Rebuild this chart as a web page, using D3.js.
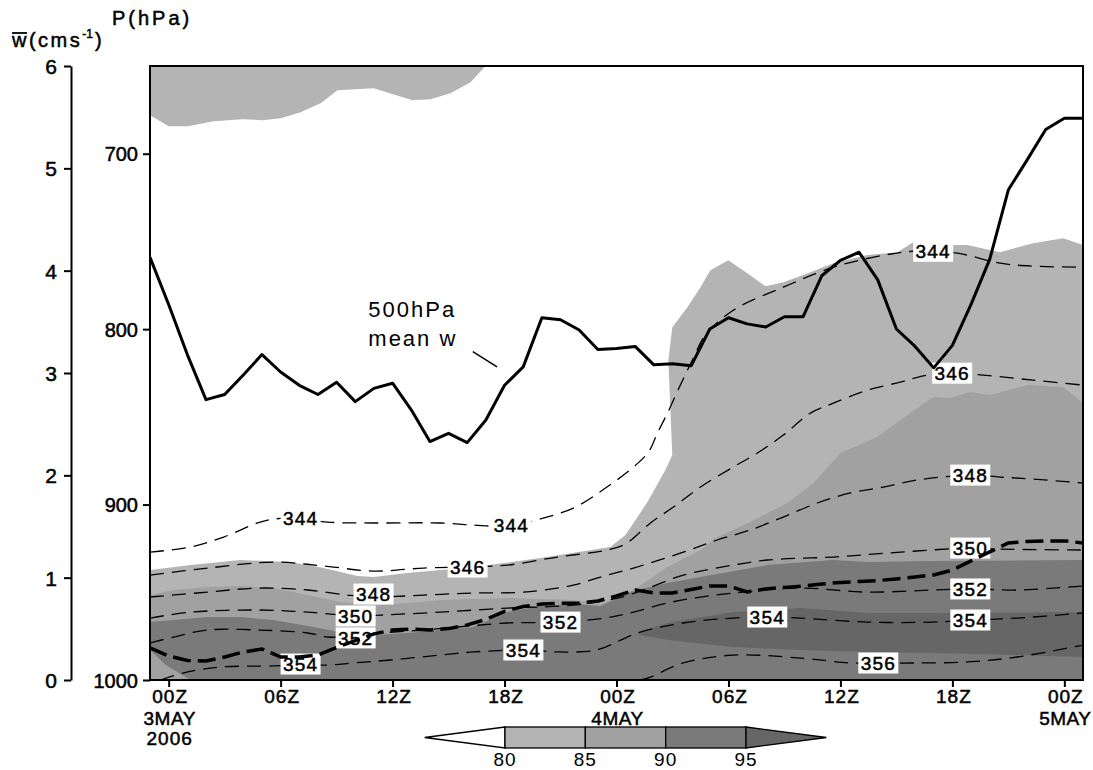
<!DOCTYPE html>
<html><head><meta charset="utf-8">
<script src="https://cdn.jsdelivr.net/npm/d3@7"></script>
<style>
body{margin:0;background:#fff}
svg text{font-family:"Liberation Sans",Arial,sans-serif;fill:#000}
</style>
</head><body>
<svg id="c" width="1093" height="770"></svg>
<script>
// ---------- DATA ----------
const hours = d3.range(-1, 50); // hourly from 23Z 2 May to 01Z 5 May (hours after 00Z 3 May)
const meanW500 = [4.13,3.67,3.18,2.74,2.79,2.98,3.18,3.01,2.88,2.79,2.91,2.72,2.85,2.90,2.64,2.33,2.41,2.32,2.54,2.88,3.06,3.54,3.52,3.42,3.23,3.24,3.26,3.08,3.09,3.07,3.43,3.54,3.48,3.45,3.55,3.55,3.95,4.10,4.18,3.91,3.43,3.26,3.05,3.27,3.67,4.11,4.79,5.08,5.38,5.49,5.49];
const thickDashP = [981.7,986.3,988.9,989.2,986.9,984.0,982.3,986.9,986.9,985.7,981.5,977.5,973.7,971.5,971.0,971.5,970.7,968.6,965.5,960.9,958.1,956.7,956.3,956.1,955.0,952.1,948.7,950.4,950.4,948.4,946.4,946.4,949.8,948.1,947.2,946.4,945.3,944.4,943.8,943.3,942.4,941.3,940.1,937.3,932.1,927.0,921.9,921.0,920.7,920.7,921.9];

// relative humidity shading boundaries [hour, hPa]
const rhLevels = [80, 85, 90, 95];
const rhColors = ["#b4b4b4", "#a1a1a1", "#7a7a7a", "#666666"];
const rh80TopBlob = [[-1,678.1],[0,684.3],[1.02,684.3],[2.41,681.5],[3.96,680.3],[5.03,680.9],[6.0,679.8],[7.07,676.4],[8.14,671.2],[9.05,663.8],[10.98,662.7],[13.07,669.5],[14.03,668.9],[15.1,665.5],[16.18,659.3],[16.98,650]];
const rh80Top = [[-1,937.3],[1.18,934.5],[3.86,931.6],[6.53,932.8],[8.3,936.2],[10.12,940.7],[10.98,941.3],[12.8,939.0],[16.34,935.6],[19.92,930.5],[23.67,924.2],[24.48,917.4],[25.66,898.6],[26.62,880.3],[26.99,871.8],[26.89,846.2],[26.78,817.7],[26.99,798.9],[27.8,787.5],[28.5,776.1],[29.03,766.4],[29.99,760.7],[31.01,768.1],[31.98,775.5],[32.94,773.2],[34.01,769.2],[35.62,762.4],[37.44,757.8],[39.05,756.1],[39.9,750.4],[40.97,752.1],[42.8,752.1],[44.56,756.1],[46.33,751.0],[47.94,748.2],[49,752.1]];
const rh85Top = [[-1,951.6],[0.27,948.7],[2.09,947.0],[3.86,946.4],[5.62,947.6],[7.45,951.6],[9.21,955.6],[10.98,957.3],[12.8,956.1],[14.57,954.4],[18.16,953.3],[21.69,954.4],[23.14,956.7],[24.91,948.7],[26.73,935.6],[28.5,925.9],[29.4,918.5],[31.17,910.0],[33.15,899.1],[34.55,887.8],[35.99,870.7],[37.97,861.5],[39.21,851.9],[40.97,838.7],[41.89,839.3],[42.96,835.9],[44.03,837.6],[46.01,831.9],[47.94,833.0],[49,842.2]];
const rh90Top = [[-1,967.0],[0.27,965.8],[2.09,964.1],[3.86,964.1],[5.62,965.8],[7.45,969.2],[9.21,972.6],[10.98,974.4],[12.8,973.2],[14.57,971.5],[16.34,969.8],[18.16,961.3],[19.92,957.8],[21.69,956.7],[23.14,957.8],[24.91,949.3],[26.73,944.7],[28.5,941.3],[32.08,934.5],[35.62,931.6],[37.44,932.8],[40.97,932.2],[49,931.6]];
const rh90LowerLeft = [[1.18,1000],[-0.16,991.5],[-1,982.9]];
const rh95Region = [[25.12,973.2],[26.73,967.5],[30.26,961.3],[33.85,959.0],[37.44,961.8],[40.97,961.8],[49,961.3],[49,986.9],[45.47,985.8],[40.97,984.6],[37.44,984.0],[33.85,982.9],[30.26,981.2],[26.73,977.2],[25.28,974.4]];

// equivalent potential temperature contours (K) [hour, hPa]
const thetaE344 = [[-1,927.1],[1.18,924.2],[2.95,918.5],[4.77,910.5],[5.62,908.3],[6.96,907.7],[8.52,910.0],[10.98,910.5],[14.57,910.5],[16.34,911.7],[17.94,912.3],[19.23,910.0],[21.69,902.0],[23.41,890.6],[24.91,878.6],[25.71,870.1],[26.19,859.3],[26.73,847.9],[27.42,831.9],[28.12,816.5],[28.76,803.4],[30.26,789.2],[32.94,776.1],[35.62,764.7],[38.3,757.9],[39.9,755.6],[42.26,756.7],[44.56,762.4],[46.33,764.1],[49,764.7]];
const thetaE346 = [[-1,940.2],[2.09,936.2],[5.62,932.8],[8.3,935.0],[10.98,937.9],[13.66,936.2],[16.02,935.6],[18.16,934.5],[20.84,929.9],[23.51,925.9],[24.48,922.5],[25.82,910.5],[27.05,901.4],[28.5,890.0],[30.26,878.6],[31.55,870.6],[32.94,860.4],[34.39,847.9],[35.62,842.2],[37.44,834.8],[39.21,830.2],[40.65,826.2],[41.99,825.1],[43.65,826.2],[46.33,829.1],[49,831.9]];
const thetaE348 = [[-1,952.7],[2.09,949.9],[4.77,947.6],[7.45,948.7],[9.59,951.6],[10.98,952.7],[13.66,951.6],[16.34,950.4],[19.01,949.9],[21.69,945.9],[23.14,941.3],[24.91,936.2],[27.58,927.1],[29.4,920.2],[31.17,914.5],[32.94,907.1],[34.76,899.1],[36.53,893.4],[38.3,890.0],[40.11,886.0],[43.06,883.2],[44.56,884.3],[46.33,885.5],[49,887.7]];
const thetaE350 = [[-1,964.7],[1.18,961.3],[4.77,960.1],[7.45,961.3],[10.02,963.5],[11.36,963.0],[14.57,961.3],[18.16,959.0],[21.69,957.3],[24.05,953.3],[25.44,948.7],[27.58,940.2],[30.26,934.5],[32.08,931.6],[35.62,929.9],[39.21,927.1],[42.96,924.8],[44.56,925.4],[49,925.9]];
const thetaE352 = [[-1,978.9],[0.27,975.5],[2.09,971.5],[4.77,971.5],[7.45,973.2],[8.52,975.5],[10.02,974.9],[11.36,973.2],[13.66,971.5],[15.48,969.8],[18.16,967.5],[21.0,967.0],[23.41,964.7],[24.91,961.3],[26.73,956.1],[28.5,952.7],[30.26,950.4],[33.85,947.6],[37.44,949.9],[40.97,948.7],[43.06,948.1],[45.47,948.7],[49,946.4]];
const thetaE354 = [[-0.43,1000],[1.02,995.4],[2.79,992.6],[5.62,992.0],[7.07,991.5],[8.52,991.5],[9.91,990.3],[11.89,988.6],[14.57,985.8],[16.34,984.0],[19.01,982.9],[20.84,984.0],[22.6,983.5],[23.41,981.2],[25.12,973.2],[27.58,967.5],[30.26,964.7],[32.08,964.1],[33.85,964.7],[37.44,967.0],[40.97,967.0],[43.06,965.8],[45.47,964.7],[49,961.8]];
const thetaE356 = [[25.28,1000],[25.82,998.3],[27.58,990.3],[30.26,985.8],[33.85,987.5],[36.53,990.3],[38.03,990.3],[40.11,990.3],[42.8,989.7],[45.47,986.9],[49,980.1]];
// contour labels: [text, hour, hPa]
const contourLabels = [["344",7.07,907.7],["344",18.37,911.7],["344",40.97,755.6],["346",16.02,935.6],["346",41.99,825.1],["348",10.98,951.0],["348",42.96,883.2],["350",10.02,963.5],["350",42.96,924.8],["352",10.02,976.0],["352",21.0,967.0],["352",42.96,948.1],["354",7.07,990.9],["354",19.01,982.9],["354",32.08,964.1],["354",42.96,965.8],["356",38.03,990.3]];

// axes
const timeTicks = [0, 6, 12, 18, 24, 30, 36, 42, 48];
const timeTickLabels = ["00Z","06Z","12Z","18Z","00Z","06Z","12Z","18Z","00Z"];
const dateLabels = [[0,"3MAY","2006"],[24,"4MAY",""],[48,"5MAY",""]];
const pTicks = [700, 800, 900, 1000];
const wTicks = [0, 1, 2, 3, 4, 5, 6];
const annotation = {lines:["500hPa","mean w"], text:[10.7, 3.55], from:[16.3, 3.21], to:[17.6, 3.06]};

// ---------- DRAW ----------
const svg = d3.select("#c");
const L = 150, R = 1083, T = 66, B = 680;
const x = d3.scaleLinear().domain([-1, 49]).range([L, R]);
const yP = d3.scaleLinear().domain([650, 1000]).range([T, B]);
const yW = d3.scaleLinear().domain([0, 6]).range([B, T]);
const FONT = "Liberation Sans, Arial, sans-serif";
const bolden = s => s.attr("stroke","#000").attr("stroke-width",0.5);

svg.append("defs").append("clipPath").attr("id","pc")
  .append("rect").attr("x",L).attr("y",T).attr("width",R-L).attr("height",B-T);
const g = svg.append("g").attr("clip-path","url(#pc)");
const pline = d3.line().x(d=>x(d[0])).y(d=>yP(d[1]));

// shading
const poly = (pts, col) => g.append("path").attr("d", pline(pts)+"Z").attr("fill", col).attr("stroke","none");
poly(rh80TopBlob.concat([[-1,650]]), rhColors[0]);
poly(rh80Top.concat([[49,1000],[-1,1000]]), rhColors[0]);
poly(rh85Top.concat([[49,1000],[-1,1000]]), rhColors[1]);
poly(rh90Top.concat([[49,1000]], rh90LowerLeft), rhColors[2]);
poly(rh95Region, rhColors[3]);

// contours
const smooth = d3.line().x(d=>x(d[0])).y(d=>yP(d[1])).curve(d3.curveCatmullRom.alpha(0.5));
[thetaE344, thetaE346, thetaE348, thetaE350, thetaE352, thetaE354, thetaE356].forEach(c => {
  g.append("path").attr("d", smooth(c)).attr("fill","none").attr("stroke","#000")
   .attr("stroke-width",1.3).attr("stroke-dasharray","14,8");
});
// contour labels
contourLabels.forEach(([t,h,p]) => {
  const cx = x(h), cy = yP(p);
  g.append("rect").attr("x",cx-20).attr("y",cy-10.5).attr("width",40).attr("height",21).attr("fill","#fff");
  bolden(g.append("text").attr("x",cx).attr("y",cy+7).attr("text-anchor","middle").attr("font-size",19)
    .attr("letter-spacing",1.2).text(t));
});

// thick dashed line
g.append("path").datum(thickDashP.map((p,i)=>[hours[i],p])).attr("d", pline)
  .attr("fill","none").attr("stroke","#000").attr("stroke-width",3.5).attr("stroke-dasharray","18,7");

// 500 hPa mean w
g.append("path").datum(meanW500.map((w,i)=>[hours[i],w]))
  .attr("d", d3.line().x(d=>x(d[0])).y(d=>yW(d[1])))
  .attr("fill","none").attr("stroke","#000").attr("stroke-width",3).attr("stroke-linejoin","round");

// annotation
annotation.lines.forEach((s,i)=>{
  svg.append("text").attr("x",x(annotation.text[0])).attr("y",yW(annotation.text[1])+i*29)
    .attr("font-size",22).attr("letter-spacing",2).text(s);
});
svg.append("line").attr("x1",x(annotation.from[0])).attr("y1",yW(annotation.from[1]))
  .attr("x2",x(annotation.to[0])).attr("y2",yW(annotation.to[1])).attr("stroke","#000").attr("stroke-width",1.5);

// frame
svg.append("rect").attr("x",L).attr("y",T).attr("width",R-L).attr("height",B-T)
  .attr("fill","none").attr("stroke","#000").attr("stroke-width",2);

// pressure axis
const pAx = svg.append("g").attr("transform",`translate(${L},0)`)
  .call(d3.axisLeft(yP).tickValues(pTicks).tickSize(7).tickPadding(5).tickFormat(d3.format("d")));
pAx.select(".domain").remove();
pAx.selectAll("line").attr("stroke-width",2);
bolden(pAx.selectAll("text").attr("font-size",20).attr("font-family",FONT).attr("dy","0.36em"));

// w axis
const wAx = svg.append("g").attr("transform","translate(71,0)")
  .call(d3.axisLeft(yW).tickValues(wTicks).tickSize(7).tickSizeOuter(0).tickPadding(7).tickFormat(d3.format("d")));
wAx.select(".domain").attr("stroke-width",2);
wAx.selectAll("line").attr("stroke-width",2);
bolden(wAx.selectAll("text").attr("font-size",21).attr("font-family",FONT).attr("dy","0.36em"));

// time axis
const tAx = svg.append("g").attr("transform",`translate(0,${B})`)
  .call(d3.axisBottom(x).tickValues(timeTicks).tickSize(7).tickFormat((d,i)=>timeTickLabels[i]));
tAx.select(".domain").remove();
tAx.selectAll("line").attr("stroke-width",2);
bolden(tAx.selectAll("text").attr("font-size",19).attr("font-family",FONT)
  .attr("y",23).attr("dy",0).attr("dx",1).attr("letter-spacing",1));
dateLabels.forEach(([h,a,b])=>{
  bolden(svg.append("text").attr("x",x(h)+1).attr("y",725).attr("text-anchor","middle").attr("font-size",19).attr("letter-spacing",0.5).text(a));
  if(b) bolden(svg.append("text").attr("x",x(h)+1).attr("y",745).attr("text-anchor","middle").attr("font-size",19).attr("letter-spacing",1).text(b));
});

// axis titles
const wt = svg.append("text").attr("x",12).attr("y",47).attr("font-size",20).attr("letter-spacing",2.5);
wt.append("tspan").text("w(cms");
wt.append("tspan").attr("font-size",12).attr("dy",-9).attr("letter-spacing",0).text("-1");
wt.append("tspan").attr("dy",9).attr("dx",2).text(")");
bolden(wt);
svg.append("line").attr("x1",12).attr("x2",27).attr("y1",33).attr("y2",33).attr("stroke","#000").attr("stroke-width",1.8);
bolden(svg.append("text").attr("x",112).attr("y",25).attr("font-size",20).attr("letter-spacing",3).text("P(hPa)"));

// colour bar
const cb = d3.scaleLinear().domain([80, 95]).range([505, 746]);
const cy0 = 727, cy1 = 748, cym = 737.5;
svg.append("path").attr("d",`M${cb(80)},${cy0}L${cb(75)},${cym}L${cb(80)},${cy1}Z`).attr("fill","#fff").attr("stroke","#000").attr("stroke-width",1.3);
for (let i=0;i<3;i++){
  svg.append("rect").attr("x",cb(rhLevels[i])).attr("y",cy0).attr("width",cb(rhLevels[i+1])-cb(rhLevels[i])).attr("height",cy1-cy0)
    .attr("fill",rhColors[i]).attr("stroke","#000").attr("stroke-width",1.3);
}
svg.append("path").attr("d",`M${cb(95)},${cy0}L${cb(100)},${cym}L${cb(95)},${cy1}Z`).attr("fill",rhColors[3]).attr("stroke","#000").attr("stroke-width",1.3);
rhLevels.forEach(v=>{
  svg.append("text").attr("x",cb(v)).attr("y",766).attr("text-anchor","middle").attr("font-size",19).attr("letter-spacing",1).text(v);
});
</script>
</body></html>
